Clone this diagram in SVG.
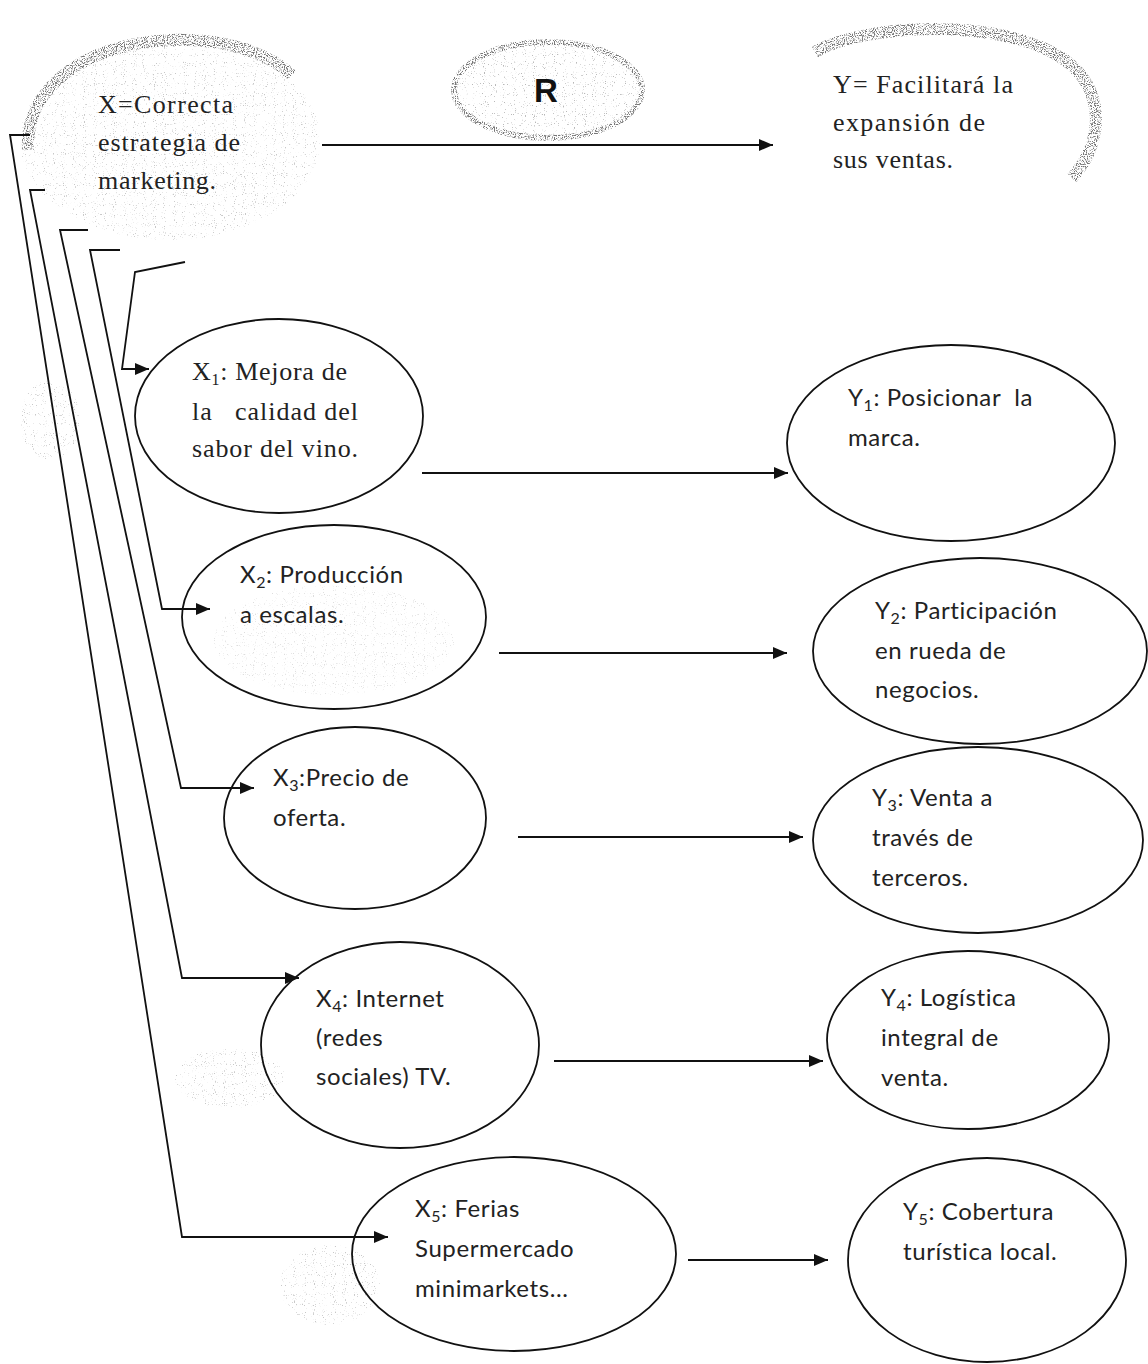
<svg xmlns="http://www.w3.org/2000/svg" width="1148" height="1364" viewBox="0 0 1148 1364">
<style>
.serif{font-family:"Liberation Serif","Times New Roman",serif;font-size:26px;fill:#222}
.sans{font-family:Lato,"Open Sans","Liberation Sans",sans-serif;font-size:24px;letter-spacing:0.6px;fill:#222}
.bold{font-family:"Liberation Sans",Arial,sans-serif;font-weight:bold;font-size:33px;fill:#111}
.node{fill:none;stroke:#111;stroke-width:1.8}
.conn{fill:none;stroke:#111;stroke-width:1.8}
.arr{marker-end:url(#ah)}
.cloud{fill:none;stroke:#777;stroke-width:12;filter:url(#spk)}
.haze{fill:#c8c8c8;stroke:none;filter:url(#spk2)}
</style>
<defs>
<marker id="ah" markerUnits="userSpaceOnUse" markerWidth="14" markerHeight="12" refX="14" refY="6" orient="auto">
<path d="M0,0 L14,6 L0,12 z" fill="#111"/>
</marker>
<filter id="spk" x="-10%" y="-10%" width="120%" height="120%">
<feTurbulence type="fractalNoise" baseFrequency="0.9" numOctaves="1" seed="4" result="n"/>
<feColorMatrix in="n" type="matrix" values="0 0 0 0 0 0 0 0 0 0 0 0 0 0 0 0 0 0 -7 3.6" result="m"/>
<feComposite in="SourceGraphic" in2="m" operator="in"/>
</filter>
<filter id="spk2" x="-10%" y="-10%" width="120%" height="120%">
<feTurbulence type="fractalNoise" baseFrequency="0.9" numOctaves="1" seed="9" result="n"/>
<feColorMatrix in="n" type="matrix" values="0 0 0 0 0 0 0 0 0 0 0 0 0 0 0 0 0 0 -9 3.3" result="m"/>
<feComposite in="SourceGraphic" in2="m" operator="in"/>
</filter>
</defs>
<rect width="1148" height="1364" fill="#fff"/>

<g id="haze">
<ellipse class="haze" cx="230" cy="1078" rx="55" ry="30"/>
<ellipse class="haze" cx="330" cy="1285" rx="50" ry="40"/>
<ellipse class="haze" cx="50" cy="420" rx="30" ry="40"/>
</g>

<g id="node-X">
<ellipse class="haze" cx="170" cy="140" rx="150" ry="100"/>
<path class="cloud" d="M28,150 C25,90 80,45 170,40 C230,38 270,55 292,75"/>
<text class="serif" x="98" y="113" textLength="135">X=Correcta</text>
<text class="serif" x="98" y="151" textLength="142">estrategia de</text>
<text class="serif" x="98" y="189" textLength="118">marketing.</text>
</g>

<g id="node-R">
<ellipse cx="548" cy="90" rx="94" ry="48" fill="#b8b8b8" filter="url(#spk2)"/>
<ellipse cx="548" cy="90" rx="94" ry="48" fill="none" stroke="#777" stroke-width="6" filter="url(#spk)"/>
<text class="bold" x="546" y="102" text-anchor="middle">R</text>
</g>

<g id="node-Y">
<path class="cloud" d="M815,52 C860,25 1000,15 1065,60 C1105,90 1105,140 1072,178"/>
<text class="serif" x="833" y="93" textLength="180">Y= Facilitará la</text>
<text class="serif" x="833" y="131" textLength="152">expansión de</text>
<text class="serif" x="833" y="168" textLength="120">sus ventas.</text>
</g>

<g id="node-X1">
<ellipse class="node" cx="279" cy="416" rx="144" ry="97"/>
<text class="serif" x="192" y="380" textLength="155">X<tspan font-size="16" dy="5">1</tspan><tspan dy="-5">: Mejora de</tspan></text>
<text class="serif" x="192" y="420" textLength="166" xml:space="preserve">la   calidad del</text>
<text class="serif" x="192" y="457" textLength="166">sabor del vino.</text>
</g>

<g id="node-X2">
<ellipse class="haze" cx="334" cy="640" rx="120" ry="55" opacity="0.6"/>
<ellipse class="node" cx="334" cy="617" rx="152" ry="92"/>
<text class="sans" x="240" y="583">X<tspan font-size="16" dy="5">2</tspan><tspan dy="-5">: Producción</tspan></text>
<text class="sans" x="240" y="623">a escalas.</text>
</g>

<g id="node-X3">
<ellipse class="node" cx="355" cy="818" rx="131" ry="91"/>
<text class="sans" x="273" y="786">X<tspan font-size="16" dy="5">3</tspan><tspan dy="-5">:Precio de</tspan></text>
<text class="sans" x="273" y="826">oferta.</text>
</g>

<g id="node-X4">
<ellipse class="node" cx="400" cy="1045" rx="139" ry="103"/>
<text class="sans" x="316" y="1007">X<tspan font-size="16" dy="5">4</tspan><tspan dy="-5">: Internet</tspan></text>
<text class="sans" x="316" y="1046">(redes</text>
<text class="sans" x="316" y="1085">sociales) TV.</text>
</g>

<g id="node-X5">
<ellipse class="node" cx="514" cy="1254" rx="162" ry="97"/>
<text class="sans" x="415" y="1217">X<tspan font-size="16" dy="5">5</tspan><tspan dy="-5">: Ferias</tspan></text>
<text class="sans" x="415" y="1257">Supermercado</text>
<text class="sans" x="415" y="1297">minimarkets...</text>
</g>

<g id="node-Y1">
<ellipse class="node" cx="951" cy="443" rx="164" ry="98"/>
<text class="sans" x="848" y="406" xml:space="preserve">Y<tspan font-size="16" dy="5">1</tspan><tspan dy="-5">: Posicionar  la</tspan></text>
<text class="sans" x="848" y="446">marca.</text>
</g>

<g id="node-Y2">
<ellipse class="node" cx="980" cy="651" rx="167" ry="93"/>
<text class="sans" x="875" y="619">Y<tspan font-size="16" dy="5">2</tspan><tspan dy="-5">: Participación</tspan></text>
<text class="sans" x="875" y="659">en rueda de</text>
<text class="sans" x="875" y="698">negocios.</text>
</g>

<g id="node-Y3">
<ellipse class="node" cx="978" cy="840" rx="165" ry="93"/>
<text class="sans" x="872" y="806">Y<tspan font-size="16" dy="5">3</tspan><tspan dy="-5">: Venta a</tspan></text>
<text class="sans" x="872" y="846">través de</text>
<text class="sans" x="872" y="886">terceros.</text>
</g>

<g id="node-Y4">
<ellipse class="node" cx="968" cy="1040" rx="141" ry="89"/>
<text class="sans" x="881" y="1006">Y<tspan font-size="16" dy="5">4</tspan><tspan dy="-5">: Logística</tspan></text>
<text class="sans" x="881" y="1046">integral de</text>
<text class="sans" x="881" y="1086">venta.</text>
</g>

<g id="node-Y5">
<ellipse class="node" cx="987" cy="1260" rx="139" ry="102"/>
<text class="sans" x="903" y="1220">Y<tspan font-size="16" dy="5">5</tspan><tspan dy="-5">: Cobertura</tspan></text>
<text class="sans" x="903" y="1260">turística local.</text>
</g>

<g id="connectors">
<path class="conn arr" d="M322,145 L773,145"/>
<path class="conn arr" d="M422,473 L788,473"/>
<path class="conn arr" d="M499,653 L787,653"/>
<path class="conn arr" d="M518,837 L803,837"/>
<path class="conn arr" d="M554,1061 L823,1061"/>
<path class="conn arr" d="M688,1260 L828,1260"/>
<path class="conn arr" d="M185,262 L135,272 L122,369 L149,369"/>
<path class="conn arr" d="M120,250 L90,250 L162,609 L210,609"/>
<path class="conn arr" d="M88,230 L60,230 L181,788 L254,788"/>
<path class="conn arr" d="M45,190 L30,190 L182,978 L299,978"/>
<path class="conn arr" d="M30,135 L10,135 L182,1237 L388,1237"/>
</g>
</svg>
